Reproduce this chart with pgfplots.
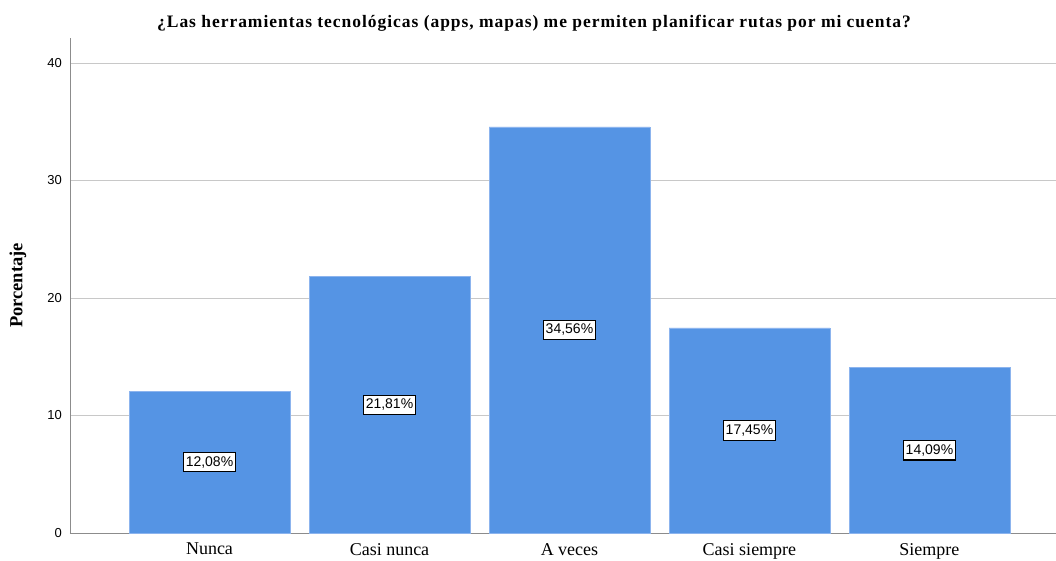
\documentclass[border=0pt]{standalone}
\usepackage{fontspec}
\setmainfont{Liberation Serif}
\newfontfamily\arial{Liberation Sans}
\newfontfamily\titlefont[LetterSpace=5.5]{Liberation Serif}
\usepackage{pgfplots}
\pgfplotsset{compat=1.18}
\definecolor{barblue}{RGB}{85,148,228}
\definecolor{baredge}{RGB}{140,180,238}
\definecolor{gridgray}{RGB}{200,200,200}
\definecolor{axisgray}{RGB}{140,140,140}
\begin{document}
\begin{tikzpicture}[x=1pt,y=1pt]
\path[use as bounding box] (0,0) rectangle (1056,560);
\begin{axis}[
  at={(70pt,27pt)}, anchor=south west,
  scale only axis, width=986pt, height=495pt,
  xmin=-0.775, xmax=4.703, ymin=0, ymax=42.13,
  axis lines=left, axis line style={-, draw=axisgray, line width=0.8pt},
  ytick={0,10,20,30,40}, ymajorgrids, grid style={gridgray, line width=0.8pt},
  xtick={0,1,2,3,4},
  xticklabels={Nunca, Casi nunca, A veces, Casi siempre, Siempre},
  major tick length=0pt,
  /pgf/number format/assume math mode=true,
  yticklabel style={font=\arial\fontsize{13}{15}\selectfont, anchor=east, inner sep=0pt, xshift=-8pt},
  xticklabel style={font=\fontsize{18}{20}\selectfont, anchor=north, inner sep=0pt, yshift=-10pt},
  ylabel={Porcentaje},
  ylabel style={at={(axis description cs:-0.0527,0.5)}, anchor=center, rotate=0, font=\bfseries\fontsize{18.5}{20}\selectfont},
  title={¿Las herramientas tecnológicas (apps, mapas) me permiten planificar rutas por mi cuenta?},
  title style={at={(axis description cs:0.4706,1.018)}, anchor=center, font=\titlefont\bfseries\fontsize{17.5}{19}\selectfont},
  clip=false,
]
\addplot[ybar, bar width=0.894, fill=barblue, draw=baredge, line width=0.6pt]
  coordinates {(0,12.08) (1,21.81) (2,34.56) (3,17.45) (4,14.09)};
\addplot[draw=none, mark=none, nodes near coords, point meta=explicit symbolic,
  every node near coord/.style={anchor=center, fill=white, draw=black, line width=1.1pt,
    inner xsep=2.5pt, inner ysep=4pt, font=\arial\fontsize{14}{16}\selectfont}]
  coordinates {(0,6.04) [12,08\%] (1,10.905) [21,81\%] (2,17.28) [34,56\%] (3,8.725) [17,45\%] (4,7.045) [14,09\%]};
\end{axis}
\end{tikzpicture}
\end{document}
